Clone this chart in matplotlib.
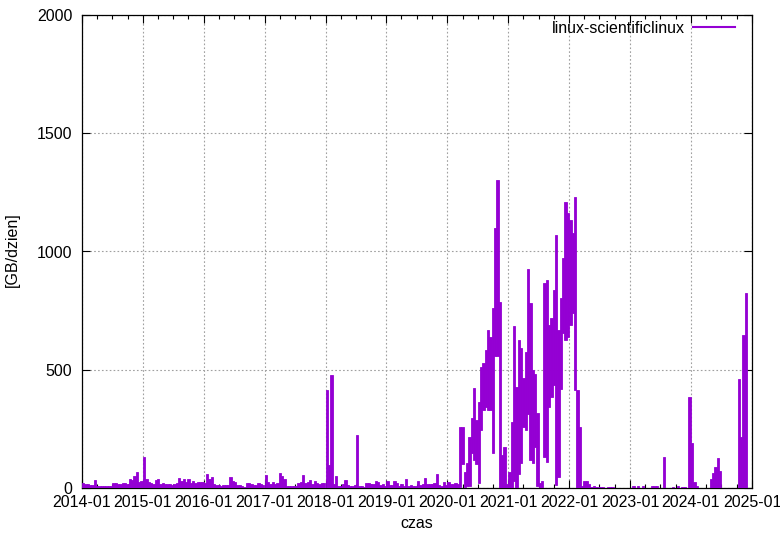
import numpy as np
import pandas as pd
import matplotlib
matplotlib.use("Agg")
import matplotlib.pyplot as plt
import matplotlib.dates as mdates

plt.rcParams['font.family'] = ['Liberation Sans', 'DejaVu Sans']

# GB per day, one value per 14-day slot (upper edge of the band)
hi_2014 = [20, 15, 15, 14, 12, 34, 10, 8, 10, 8, 9, 8, 10, 20, 22, 18, 15, 20, 22, 18, 37, 35, 51, 69, 27, 30]
hi_2015 = [132, 40, 25, 20, 18, 34, 37, 18, 20, 15, 18, 16, 14, 15, 20, 44, 30, 40, 25, 38, 22, 30, 20, 25, 27, 27]
hi_2016 = [22, 59, 40, 45, 15, 12, 12, 10, 14, 12, 12, 45, 29, 27, 14, 12, 10, 6, 22, 20, 15, 13, 13, 22, 15, 12]
hi_2017 = [55, 27, 15, 27, 16, 22, 62, 50, 37, 10, 8, 10, 10, 10, 20, 27, 55, 20, 27, 34, 18, 30, 20, 15, 20, 22]
hi_2018 = [414, 97, 478, 17, 51, 8, 10, 15, 34, 12, 8, 10, 12, 224, 10, 8, 6, 20, 20, 15, 15, 30, 25, 14, 15, 10]
hi_2019 = [30, 14, 14, 30, 22, 8, 18, 10, 38, 10, 14, 8, 10, 30, 14, 18, 42, 18, 18, 18, 22, 59, 14, 10, 25, 14]
hi_2020 = [26, 15, 18, 22, 15, 259, 259, 69, 104, 217, 295, 421, 288, 365, 513, 527, 583, 668, 640, 760,
           1098, 1302, 788, 140, 175, 15]
hi_2021 = [69, 280, 685, 428, 626, 591, 464, 577, 925, 781, 498, 484, 316, 20, 30, 866, 880, 690, 717, 836,
           1070, 668, 802, 971, 1210, 1161]
hi_2022 = [1133, 1077, 1232, 415, 260, 10, 30, 31, 18, 5, 10, 3, 3, 5, 5, 2, 5, 5, 3, 2, 2, 2, 2, 2, 2, 2]
hi_2023 = [2, 10, 2, 10, 2, 8, 2, 2, 2, 10, 8, 10, 2, 2, 131, 2, 2, 2, 5, 2, 10, 2, 5, 5, 2, 385]
hi_2024 = [190, 27, 10, 2, 2, 2, 2, 2, 40, 63, 87, 128, 70, 2, 2, 2, 2, 2, 2, 2, 460, 217, 646, 826]

# lower edge of the band where the daily values never dropped to zero
lo_2020 = [0, 0, 0, 0, 0, 5, 100, 5, 10, 10, 147, 118, 100, 20, 245, 330, 344, 330, 330, 147,
           560, 560, 0, 0, 0, 0]
lo_2021 = [0, 0, 30, 0, 60, 104, 258, 245, 314, 118, 104, 175, 10, 0, 0, 132, 111, 344, 386, 436,
           12, 48, 420, 654, 625, 640]
lo_2022 = [689, 738, 415] + [0] * 23

years = list(range(2014, 2025))
hi_by_year = [hi_2014, hi_2015, hi_2016, hi_2017, hi_2018, hi_2019,
              hi_2020, hi_2021, hi_2022, hi_2023, hi_2024]
lo_by_year = {2020: lo_2020, 2021: lo_2021, 2022: lo_2022}

dates, hi, lo = [], [], []
for y, vals in zip(years, hi_by_year):
    dates.extend(pd.date_range(f"{y}-01-01", periods=len(vals), freq="14D"))
    hi.extend(vals)
    lo.extend(lo_by_year.get(y, [0] * len(vals)))
hi = np.array(hi, dtype=float)
lo = np.array(lo, dtype=float)

color = '#9400d3'
fs = 11.5

fig = plt.figure(figsize=(7.8, 5.38), dpi=100)
ax = fig.add_axes([82 / 780, 50 / 538, 670 / 780, 473 / 538])

ax.bar(dates, hi - lo, bottom=lo, width=14, align='edge',
       color=color, edgecolor=color, linewidth=0.6, zorder=3)
ax.plot([], [], color=color, linewidth=1.5, label='linux-scientificlinux')

ax.set_xlim(pd.Timestamp('2014-01-01'), pd.Timestamp('2025-01-01'))
ax.set_ylim(0, 2000)
ax.set_yticks([0, 500, 1000, 1500, 2000])
ax.xaxis.set_major_locator(mdates.YearLocator())
ax.xaxis.set_major_formatter(mdates.DateFormatter('%Y-%m'))
ax.xaxis.set_minor_locator(mdates.MonthLocator(bymonth=[4, 7, 10]))

ax.grid(True, which='major', color='#a0a0a0', linestyle=(0, (1.5, 2)), linewidth=0.8, zorder=1)
ax.tick_params(which='both', direction='in', top=True, right=True, labelsize=fs, width=0.8)
ax.tick_params(which='major', length=6)
ax.tick_params(which='minor', length=3)
ax.tick_params(axis='y', pad=7)
ax.tick_params(axis='x', pad=5)
for s in ax.spines.values():
    s.set_linewidth(0.9)

fig.text(12 / 780, 1 - 250 / 538, '[GB/dzien]', rotation=90, ha='center', va='center', fontsize=fs)
fig.text(417 / 780, 1 - 523 / 538, 'czas', ha='center', va='center', fontsize=fs)

ax.legend(loc='upper right', frameon=False, markerfirst=False, fontsize=fs,
          handlelength=2.6, handletextpad=0.5, borderaxespad=0.3, bbox_to_anchor=(0.991, 1.011))

fig.savefig('out.png', dpi=100)
